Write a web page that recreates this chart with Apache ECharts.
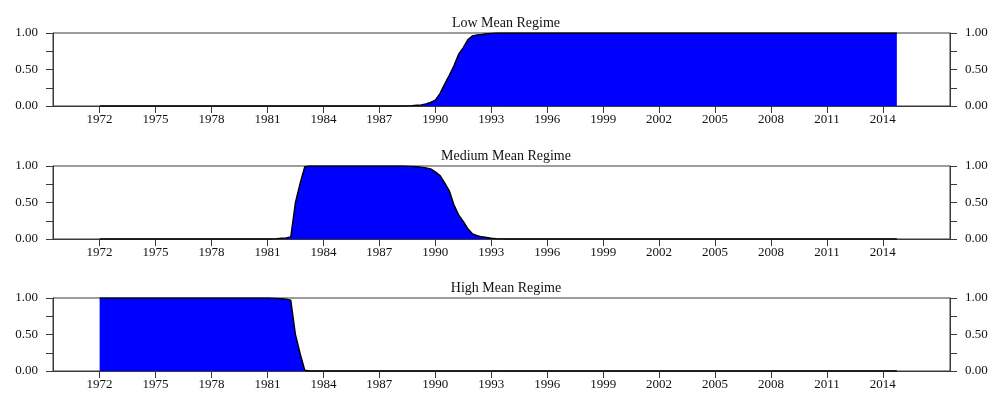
<!DOCTYPE html>
<html>
<head>
<meta charset="utf-8">
<script src="https://cdn.jsdelivr.net/npm/echarts@6/dist/echarts.min.js"></script>
<style>
  html, body { margin: 0; padding: 0; background: #fff; }
  #chart { width: 993px; height: 396px; }
</style>
</head>
<body>
<div id="chart"></div>
<script>
// 季度数据 1972Q1 - 2014Q4
const startYear = 1972;
const panelTitles = ['Low Mean Regime', 'Medium Mean Regime', 'High Mean Regime'];
const xTickYears = [1972, 1975, 1978, 1981, 1984, 1987, 1990, 1993, 1996, 1999, 2002, 2005, 2008, 2011, 2014];
const yTicks = [0, 0.25, 0.5, 0.75, 1];
const yLabels = [0, 0.5, 1];

// low mean regime
const lowProb = [
  0, 0, 0, 0,  0, 0, 0, 0,  0, 0, 0, 0,  0, 0, 0, 0,          // 1972-1975
  0, 0, 0, 0,  0, 0, 0, 0,  0, 0, 0, 0,  0, 0, 0, 0,          // 1976-1979
  0, 0, 0, 0,  0, 0, 0, 0,  0, 0, 0, 0,  0, 0, 0, 0,          // 1980-1983
  0, 0, 0, 0,  0, 0, 0, 0,  0, 0, 0, 0,  0, 0, 0, 0,          // 1984-1987
  0, 0, 0.002, 0.005,  0.01, 0.015, 0.03, 0.05,               // 1988-1989
  0.08, 0.17, 0.30, 0.42,  0.55, 0.71, 0.80, 0.91,            // 1990-1991
  0.96, 0.975, 0.98, 0.99,  0.995, 1, 1, 1,                   // 1992-1993
  1, 1, 1, 1,  1, 1, 1, 1,  1, 1, 1, 1,  1, 1, 1, 1,          // 1994-1997
  1, 1, 1, 1,  1, 1, 1, 1,  1, 1, 1, 1,  1, 1, 1, 1,          // 1998-2001
  1, 1, 1, 1,  1, 1, 1, 1,  1, 1, 1, 1,  1, 1, 1, 1,          // 2002-2005
  1, 1, 1, 1,  1, 1, 1, 1,  1, 1, 1, 1,  1, 1, 1, 1,          // 2006-2009
  1, 1, 1, 1,  1, 1, 1, 1,  1, 1, 1, 1,  1, 1, 1, 1,          // 2010-2013
  1, 1, 1, 1                                                  // 2014
];

// medium mean regime
const mediumProb = [
  0, 0, 0, 0,  0, 0, 0, 0,  0, 0, 0, 0,  0, 0, 0, 0,          // 1972-1975
  0, 0, 0, 0,  0, 0, 0, 0,  0, 0, 0, 0,  0, 0, 0, 0,          // 1976-1979
  0, 0, 0, 0,  0, 0.002, 0.005, 0.01,                         // 1980-1981
  0.015, 0.03, 0.50, 0.76,  0.99, 1, 1, 1,                    // 1982-1983
  1, 1, 1, 1,  1, 1, 1, 1,  1, 1, 1, 1,  1, 1, 1, 1,          // 1984-1987
  1, 1, 0.998, 0.995,  0.99, 0.985, 0.975, 0.96,              // 1988-1989
  0.92, 0.87, 0.77, 0.66,  0.47, 0.33, 0.24, 0.14,            // 1990-1991
  0.07, 0.045, 0.03, 0.02,  0.01, 0.005, 0.002, 0,            // 1992-1993
  0, 0, 0, 0,  0, 0, 0, 0,  0, 0, 0, 0,  0, 0, 0, 0,          // 1994-1997
  0, 0, 0, 0,  0, 0, 0, 0,  0, 0, 0, 0,  0, 0, 0, 0,          // 1998-2001
  0, 0, 0, 0,  0, 0, 0, 0,  0, 0, 0, 0,  0, 0, 0, 0,          // 2002-2005
  0, 0, 0, 0,  0, 0, 0, 0,  0, 0, 0, 0,  0, 0, 0, 0,          // 2006-2009
  0, 0, 0, 0,  0, 0, 0, 0,  0, 0, 0, 0,  0, 0, 0, 0,          // 2010-2013
  0, 0, 0, 0                                                  // 2014
];

// high mean regime
const highProb = [
  1, 1, 1, 1,  1, 1, 1, 1,  1, 1, 1, 1,  1, 1, 1, 1,          // 1972-1975
  1, 1, 1, 1,  1, 1, 1, 1,  1, 1, 1, 1,  1, 1, 1, 1,          // 1976-1979
  1, 1, 1, 1,  1, 0.998, 0.995, 0.99,                         // 1980-1981
  0.985, 0.97, 0.50, 0.24,  0.01, 0, 0, 0,                    // 1982-1983
  0, 0, 0, 0,  0, 0, 0, 0,  0, 0, 0, 0,  0, 0, 0, 0,          // 1984-1987
  0, 0, 0, 0,  0, 0, 0, 0,  0, 0, 0, 0,  0, 0, 0, 0,          // 1988-1991
  0, 0, 0, 0,  0, 0, 0, 0,  0, 0, 0, 0,  0, 0, 0, 0,          // 1992-1995
  0, 0, 0, 0,  0, 0, 0, 0,  0, 0, 0, 0,  0, 0, 0, 0,          // 1996-1999
  0, 0, 0, 0,  0, 0, 0, 0,  0, 0, 0, 0,  0, 0, 0, 0,          // 2000-2003
  0, 0, 0, 0,  0, 0, 0, 0,  0, 0, 0, 0,  0, 0, 0, 0,          // 2004-2007
  0, 0, 0, 0,  0, 0, 0, 0,  0, 0, 0, 0,  0, 0, 0, 0,          // 2008-2011
  0, 0, 0, 0,  0, 0, 0, 0,  0, 0, 0, 0                        // 2012-2014
];

const font = "'Liberation Serif', 'Times New Roman', serif";
const axisColor = '#3a3a3a';
const panels = [lowProb, mediumProb, highProb];
const gridTops = [33, 166, 298];
const gridHeight = 73;

function toPoints(arr) {
  return arr.map((v, i) => [startYear + i / 4, v]);
}

const grid = [], xAxis = [], yAxis = [], series = [], title = [];

panels.forEach((arr, k) => {
  grid.push({
    left: 53, right: 43, top: gridTops[k], height: gridHeight,
    show: true, borderColor: axisColor, borderWidth: 1, backgroundColor: 'transparent'
  });
  title.push({
    text: panelTitles[k],
    left: 501, top: gridTops[k] - 22, textAlign: 'center',
    textStyle: { fontFamily: font, fontSize: 14, fontWeight: 'normal', color: '#111' }
  });
  xAxis.push({
    type: 'value', gridIndex: k, min: 1969.5, max: 2017.6,
    splitLine: { show: false },
    axisLine: { lineStyle: { color: axisColor, width: 1 } },
    axisTick: { show: true, length: 7, customValues: xTickYears, lineStyle: { color: axisColor } },
    axisLabel: { customValues: xTickYears, margin: 7, fontFamily: font, fontSize: 13, color: '#111',
                 formatter: v => String(v) }
  });
  ['left', 'right'].forEach(pos => {
    yAxis.push({
      type: 'value', gridIndex: k, position: pos, min: 0, max: 1,
      splitLine: { show: false },
      axisLine: { show: true, lineStyle: { color: axisColor, width: 1 } },
      axisTick: { show: true, length: 7, customValues: yTicks, lineStyle: { color: axisColor } },
      axisLabel: { customValues: yLabels, margin: 15, fontFamily: font, fontSize: 13, color: '#111',
                   formatter: v => v.toFixed(2) }
    });
  });
  series.push({
    type: 'line', xAxisIndex: k, yAxisIndex: k * 2,
    data: toPoints(arr),
    showSymbol: false, smooth: false,
    lineStyle: { color: '#000', width: 1.4 },
    areaStyle: { color: '#0000ff', opacity: 1 },
    z: 2
  });
});

const myChart = echarts.init(document.getElementById('chart'), null, { renderer: 'canvas' });
myChart.setOption({
  animation: false,
  title: title,
  grid: grid,
  xAxis: xAxis,
  yAxis: yAxis,
  series: series
});
</script>
</body>
</html>
